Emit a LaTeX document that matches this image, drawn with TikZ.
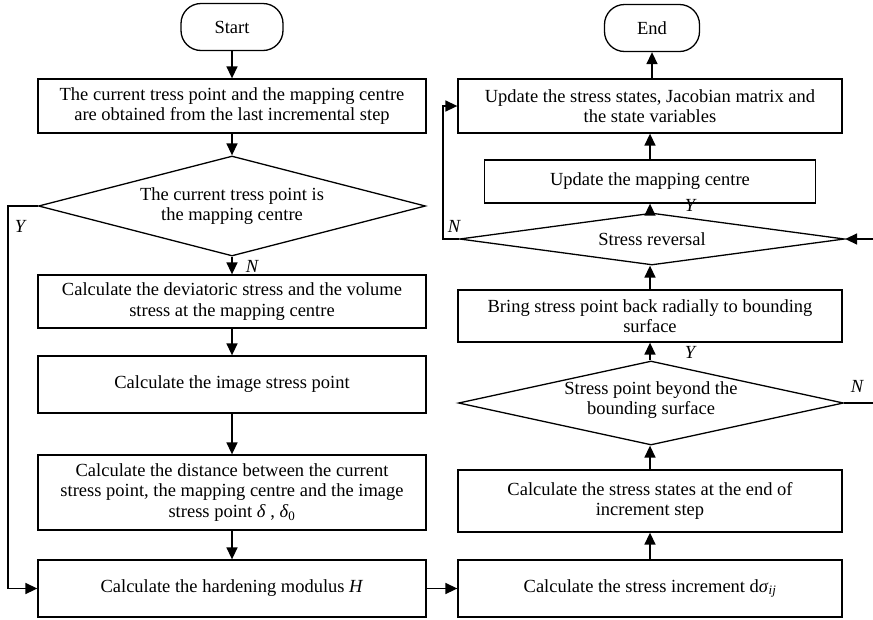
\documentclass[tikz,border=0pt]{standalone}
\usepackage{fontspec}
\setmainfont{Liberation Serif}
\usetikzlibrary{shapes.geometric,arrows.meta}
\begin{document}
\begin{tikzpicture}[x=1pt,y=-1pt,
  every node/.style={font=\fontsize{18.5}{20.5}\selectfont},
  box/.style={draw, line width=1.3pt, align=center, inner sep=0pt},
  term/.style={draw, line width=1.3pt, rounded corners=20pt, inner sep=0pt, minimum height=47pt},
  dia/.style={draw, diamond, line width=1.3pt, inner sep=0pt},
  arr/.style={line width=1.5pt, -{Triangle[length=12pt,width=11pt]}},
  lbl/.style={font=\fontsize{18.5}{20.5}\selectfont\itshape, inner sep=0pt}
]
\useasboundingbox (0,0) rectangle (873,619);
\clip (0,0) rectangle (873,619);

% left column
\node[term, minimum width=102pt] (start) at (232,27) {Start};
\node[box, minimum width=388pt, minimum height=54pt] (b1) at (232,106)
  {The current tress point and the mapping centre\\are obtained from the last incremental step};
\node[dia, minimum width=387pt, minimum height=100pt,
  label={[align=center]center:The current tress point is\\the mapping centre}] (d1) at (232,206) {};
\node[box, minimum width=388pt, minimum height=53pt] (b2) at (232,301.5)
  {Calculate the deviatoric stress and the volume\\stress at the mapping centre};
\node[box, minimum width=388pt, minimum height=57pt] (b3) at (232,384.5)
  {Calculate the image stress point};
\node[box, minimum width=388pt, minimum height=75pt] (b4) at (232,492.5)
  {Calculate the distance between the current\\stress point, the mapping centre and the image\\stress point \textit{δ} , \textit{δ}\textsubscript{0}};
\node[box, minimum width=388pt, minimum height=57pt] (b5) at (232,588.5)
  {Calculate the hardening modulus \textit{H}};

% right column
\node[term, minimum width=95pt] (end) at (652,28) {End};
\node[box, minimum width=384pt, minimum height=54pt] (r1) at (650,106)
  {Update the stress states, Jacobian matrix and\\the state variables};
\node[box, minimum width=331pt, minimum height=43pt] (r2) at (650,181.5)
  {Update the mapping centre};
\node[dia, minimum width=385pt, minimum height=52pt,
  label={center:Stress reversal}] (rd1) at (652,239) {};
\node[box, minimum width=384pt, minimum height=52pt] (r3) at (650,316)
  {Bring stress point back radially to bounding\\surface};
\node[dia, minimum width=385pt, minimum height=84pt,
  label={[align=center, yshift=3pt]center:Stress point beyond the\\bounding surface}] (rd2) at (651,403) {};
\node[box, minimum width=384pt, minimum height=62pt] (r4) at (650,501)
  {Calculate the stress states at the end of\\increment step};
\node[box, minimum width=384pt, minimum height=57pt] (r5) at (650,588.5)
  {Calculate the stress increment d\textit{σ}\textsubscript{\textit{ij}}};

% labels
\node[lbl] (lY1) at (20,226) {Y};
\node[lbl] (lN1) at (252,266) {N};
\node[lbl] (lN2) at (454,226) {N};
\node[lbl] (lY2) at (690,205) {Y};
\node[lbl] (lY3) at (690,352) {Y};
\node[lbl] (lN3) at (857,386) {N};

% connectors left
\draw[arr] (start) -- (b1);
\draw[arr] (b1) -- (d1);
\draw[arr] (d1) -- (b2);
\draw[arr] (b2) -- (b3);
\draw[arr] (b3) -- (b4);
\draw[arr] (b4) -- (b5);
\draw[arr] (d1.west) -- (8,206) |- (b5.west);
\draw[arr] (b5.east) -- (r5.west);

% connectors right
\draw[arr] (r5.north) -- (r4.south);
\draw[arr] (r4.north) -- (rd2.south -| r4.north);
\draw[arr] (rd2.north -| r3.south) -- (r3.south);
\draw[arr] (r3.north) -- (rd1.south -| r3.north);
\draw[arr] (rd1.north -| r2.south) -- (r2.south);
\draw[arr] (r2.north) -- (r1.south);
\draw[arr] (r1.north -| end.south) -- (end.south);
\draw[arr] (rd1.west) -- (443,239) |- (r1.west);
\draw[arr] (rd2.east) -- (885,403) |- (rd1.east);
\end{tikzpicture}
\end{document}
